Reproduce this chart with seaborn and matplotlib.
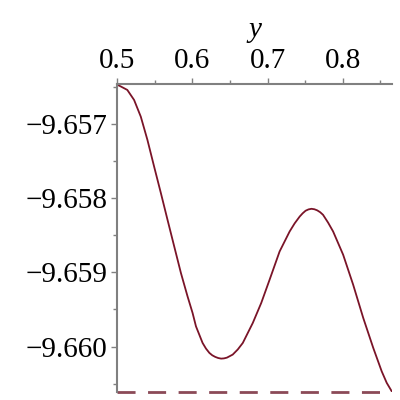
import matplotlib
matplotlib.use("Agg")
import matplotlib.pyplot as plt
import seaborn as sns
import numpy as np
import pandas as pd
from matplotlib.ticker import MultipleLocator

# values
y_vals = [0.5, 0.505, 0.5137, 0.5227, 0.5316, 0.5404, 0.5493, 0.5583, 0.5671, 0.576,
          0.5849, 0.5937, 0.6004, 0.6049, 0.6137, 0.6182, 0.6227, 0.6265, 0.6305,
          0.6344, 0.6383, 0.6421, 0.646, 0.6537, 0.6604, 0.6671, 0.6804, 0.6916,
          0.7027, 0.716, 0.7293, 0.736, 0.7427, 0.7466, 0.7505, 0.7544, 0.7583,
          0.7622, 0.766, 0.7699, 0.7737, 0.7804, 0.7871, 0.8004, 0.8137, 0.8271,
          0.8404, 0.8516, 0.8583, 0.8649]
f_vals = [-9.656470, -9.656495, -9.656542, -9.656677, -9.656902, -9.657215, -9.657575,
          -9.657933, -9.658292, -9.658651, -9.659009, -9.659324, -9.659548, -9.659728,
          -9.659952, -9.660028, -9.660086, -9.660118, -9.660140, -9.660155, -9.660163,
          -9.660160, -9.660150, -9.660109, -9.660040, -9.659952, -9.659682, -9.659413,
          -9.659100, -9.658719, -9.658450, -9.658340, -9.658248, -9.658205, -9.658170,
          -9.658152, -9.658144, -9.658150, -9.658165, -9.658190, -9.658225, -9.658330,
          -9.658450, -9.658763, -9.659167, -9.659615, -9.660019, -9.660334, -9.660490,
          -9.660603]
y_min, y_max = 0.5, 0.8653
f_bottom = -9.660607
f_top = -9.656462

x_ticks = [0.5, 0.6, 0.7, 0.8]
x_labels = ["0.5", "0.6", "0.7", "0.8"]
f_ticks = [-9.657, -9.658, -9.659, -9.660]
f_labels = ["\u22129.657", "\u22129.658", "\u22129.659", "\u22129.660"]

df = pd.DataFrame({"y": y_vals, "f": f_vals})
base = pd.DataFrame({"y": [y_min, y_max], "f": [f_bottom, f_bottom]})

sns.set_style("white")
plt.rcParams['font.family'] = ['Liberation Serif', 'DejaVu Serif']

fig = plt.figure(figsize=(4, 4), dpi=100)
ax = fig.add_axes([0.2925, 0.02, 0.6875, 0.77])

# dashed base line at the lower limit
ax.plot(base["y"], base["f"], color="#8b4a57", linewidth=2.0,
        linestyle=(0, (6.5, 4.5)), clip_on=False)
sns.lineplot(data=df, x="y", y="f", ax=ax, color="#7a1428", linewidth=1.3)

ax.set_xlim(y_min, y_max)
ax.set_ylim(f_bottom - 0.000006, f_top)

grey = "#808080"
for s in ["bottom", "right"]:
    ax.spines[s].set_visible(False)
for s in ["top", "left"]:
    ax.spines[s].set_color(grey)
    ax.spines[s].set_linewidth(1.5)

ax.xaxis.tick_top()
ax.set_xticks(x_ticks)
ax.set_xticklabels(x_labels)
ax.xaxis.set_minor_locator(MultipleLocator(0.05))
ax.set_yticks(f_ticks)
ax.set_yticklabels(f_labels)
ax.yaxis.set_minor_locator(MultipleLocator(0.0005))

ax.tick_params(axis="both", which="major", direction="out", length=4, width=1,
               color=grey, labelsize=21, labelcolor="black", pad=3)
ax.tick_params(axis="both", which="minor", direction="out", length=3, width=1,
               color=grey)
ax.tick_params(axis="x", which="both", top=True, bottom=False)
ax.tick_params(axis="y", which="both", left=True, right=False)

ax.set_xlabel("y", fontsize=21, style="italic", color="black", labelpad=8)
ax.xaxis.set_label_position("top")
ax.set_ylabel("")

fig.savefig("out.png", dpi=100)
